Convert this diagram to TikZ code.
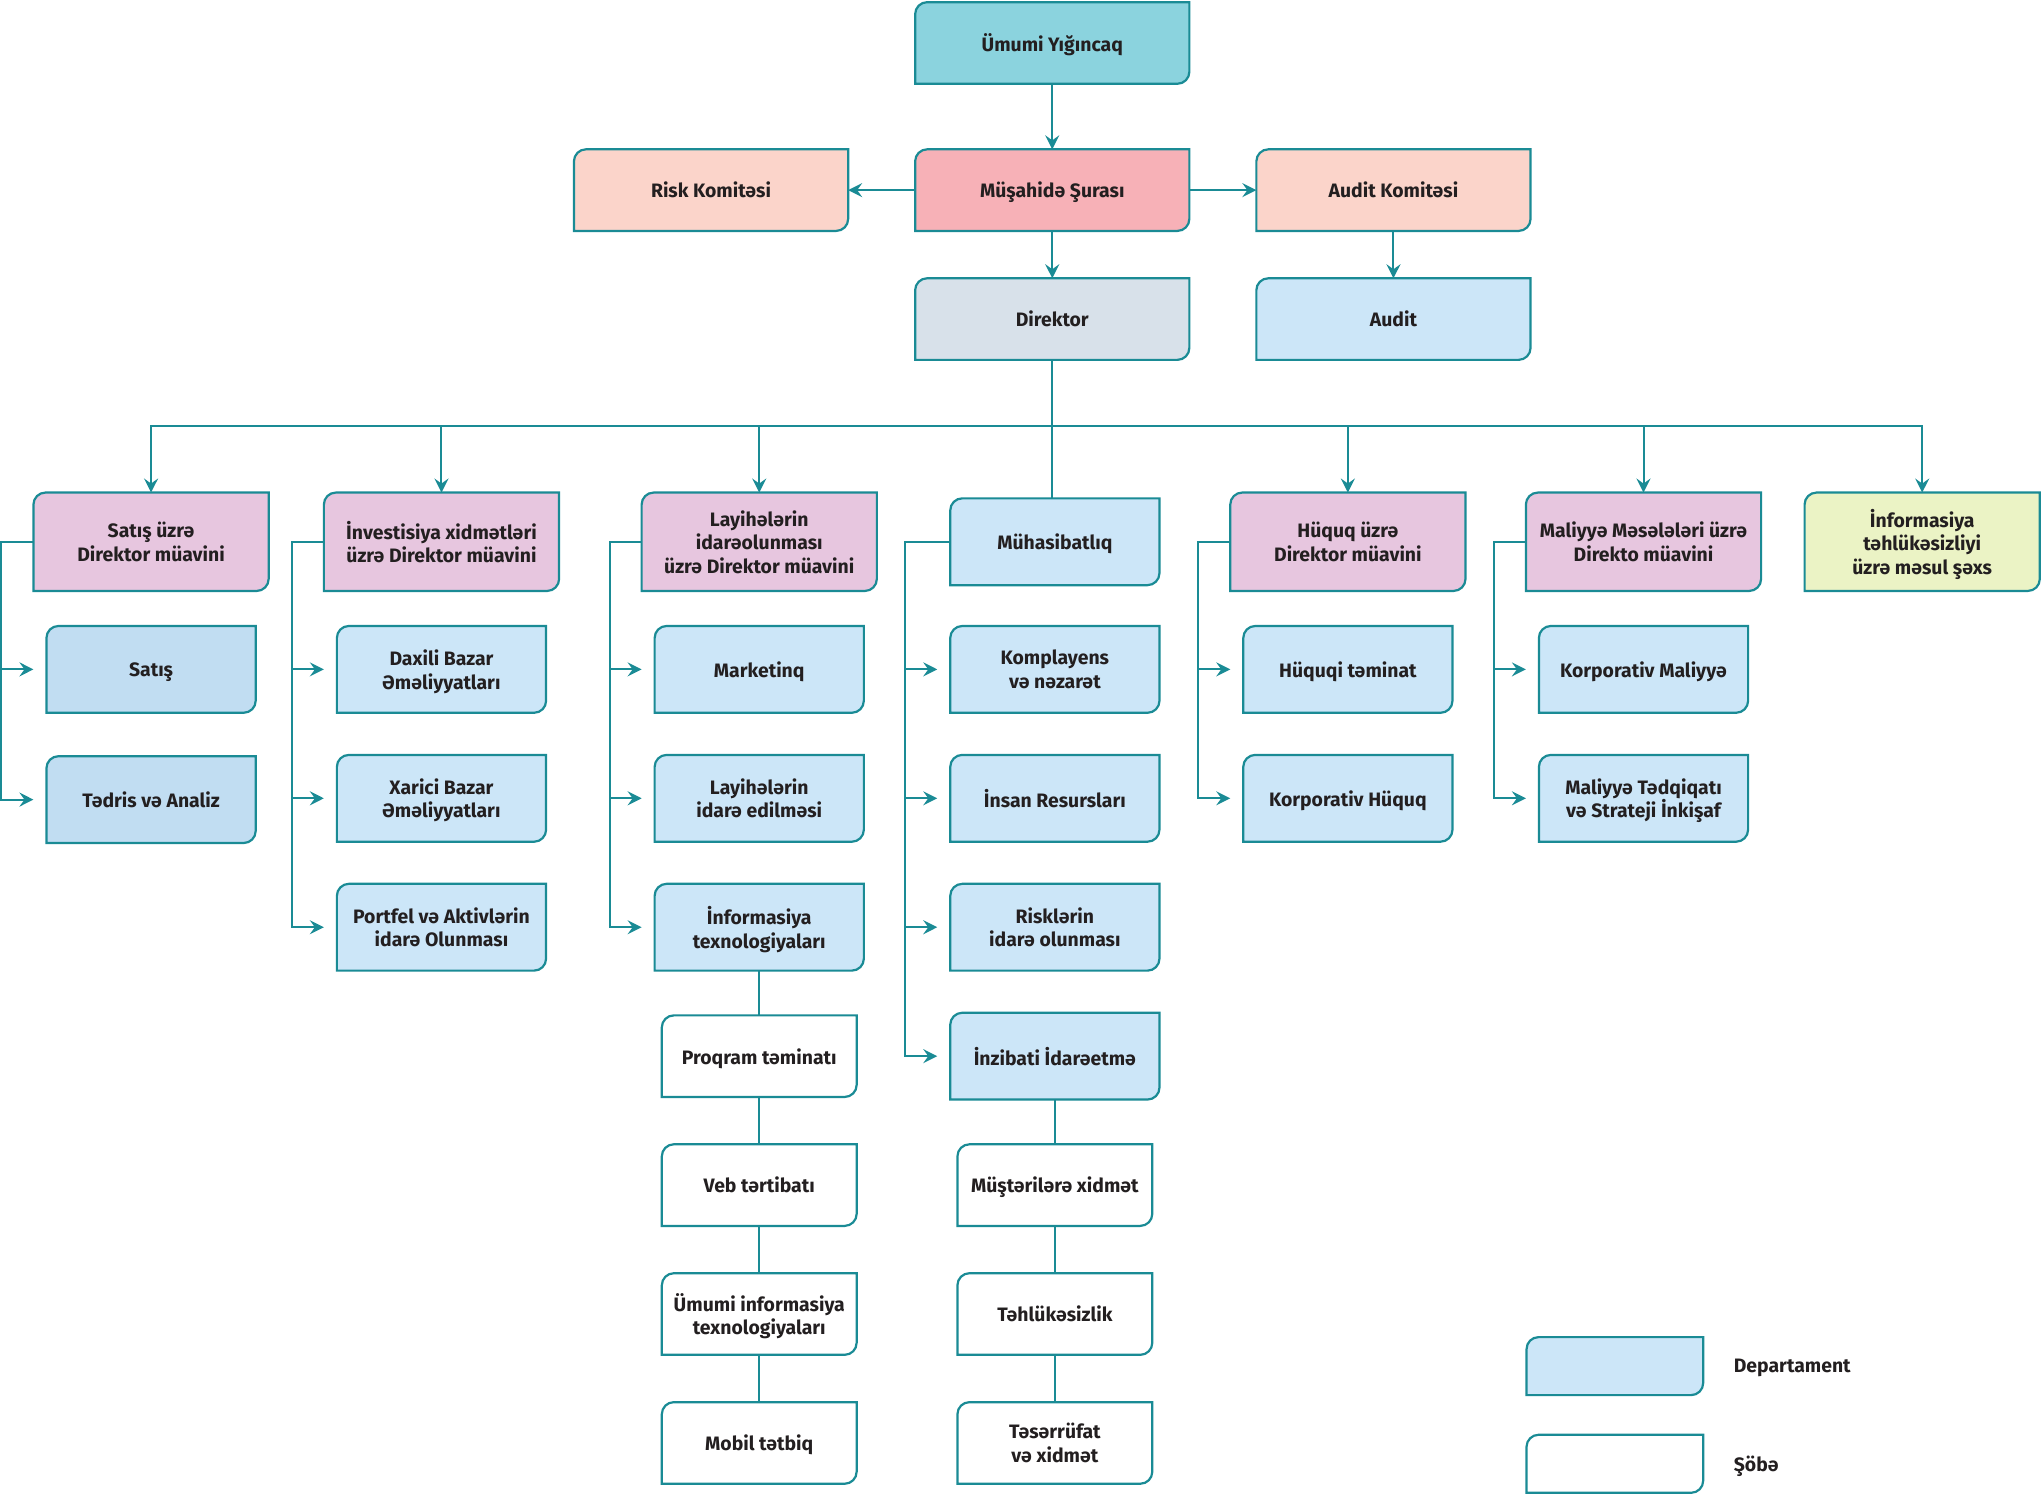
\documentclass[tikz,border=0pt]{standalone}
\usepackage{fontspec}
\setmainfont{Fira Sans}
\usetikzlibrary{arrows.meta,backgrounds,calc}
\definecolor{orgteal}{HTML}{1A8B95}
\definecolor{orgtext}{HTML}{231F20}
\definecolor{gmfill}{HTML}{8BD3DE}
\definecolor{msfill}{HTML}{F7B1B7}
\definecolor{komfill}{HTML}{FBD4CA}
\definecolor{dirfill}{HTML}{D8E1EA}
\definecolor{depfill}{HTML}{CCE6F8}
\definecolor{saleblue}{HTML}{C1DDF2}
\definecolor{mgrfill}{HTML}{E7C6DF}
\definecolor{secfill}{HTML}{EBF3C5}
\newcommand{\tabr}{6pt}
\newcommand{\tabbox}[2]{%
  \filldraw[boxline, fill=#2] (#1.south west) -- ([yshift=-\tabr]#1.north west)
    arc[start angle=180, end angle=90, radius=\tabr] -- (#1.north east)
    -- ([yshift=\tabr]#1.south east)
    arc[start angle=0, end angle=-90, radius=\tabr] -- cycle;}
\tikzset{
  base/.style   ={align=center, font=\fontsize{9.7}{11.8}\selectfont\bfseries,
                  text=orgtext, inner sep=2pt, text depth=0pt},
  topbox/.style ={base, minimum width=136.7pt, minimum height=40.4pt},
  mgr/.style    ={base, minimum width=117.2pt, minimum height=48.8pt},
  dept/.style   ={base, minimum width=104.2pt, minimum height=43pt},
  sobe/.style   ={base, minimum width=97pt, minimum height=40.4pt},
  legbox/.style ={minimum width=87.9pt, minimum height=28.6pt},
  legtxt/.style ={base, anchor=west},
  boxline/.style={draw=orgteal, line width=1.1pt},
  ln/.style     ={draw=orgteal, line width=1pt},
  fl/.style     ={ln, -{Stealth[length=7pt, width=7pt, inset=2.5pt]}},
  side/.style   ={fl, shorten >=6.5pt}
}

\begin{document}
\begin{tikzpicture}[x=0.6511pt, y=-0.6511pt]
  \useasboundingbox (0,0) rectangle (1568,1147);
  % --- governance
  \node[topbox] (gm)  at (808,33)   {Ümumi Yığıncaq};
  \node[topbox] (ms)  at (808,146)  {Müşahidə Şurası};
  \node[topbox] (rk)  at (546,146)  {Risk Komitəsi};
  \node[topbox] (ak)  at (1070,146) {Audit Komitəsi};
  \node[topbox] (dir) at (808,245)  {Direktor};
  \node[topbox] (aud) at (1070,245) {Audit};
  % --- deputies
  \node[mgr]  (satdm)  at (116,416)  {Satış üzrə\\Direktor müavini};
  \node[mgr]  (invdm)  at (339,416)  {İnvestisiya xidmətləri\\üzrə Direktor müavini};
  \node[mgr]  (laydm)  at (583,416)  {Layihələrin\\idarəolunması\\üzrə Direktor müavini};
  \node[dept] (muh)    at (810,416)  {Mühasibatlıq};
  \node[mgr]  (huqdm)  at (1035,416) {Hüquq üzrə\\Direktor müavini};
  \node[mgr]  (maldm)  at (1262,416) {Maliyyə Məsələləri üzrə\\Direkto müavini};
  \node[mgr]  (infsec) at (1476,416) {İnformasiya\\təhlükəsizliyi\\üzrə məsul şəxs};
  % --- departments
  \node[dept] (satis)   at (116,514)  {Satış};
  \node[dept] (tedris)  at (116,614)  {Tədris və Analiz};
  \node[dept] (daxili)  at (339,514)  {Daxili Bazar\\Əməliyyatları};
  \node[dept] (xarici)  at (339,613)  {Xarici Bazar\\Əməliyyatları};
  \node[dept] (portfel) at (339,712)  {Portfel və Aktivlərin\\idarə Olunması};
  \node[dept] (mark)    at (583,514)  {Marketinq};
  \node[dept] (layid)   at (583,613)  {Layihələrin\\idarə edilməsi};
  \node[dept] (infotex) at (583,712)  {İnformasiya\\texnologiyaları};
  \node[dept] (kompl)   at (810,514)  {Komplayens\\və nəzarət};
  \node[dept] (insan)   at (810,613)  {İnsan Resursları};
  \node[dept] (riskid)  at (810,712)  {Risklərin\\idarə olunması};
  \node[dept] (inzib)   at (810,811)  {İnzibati İdarəetmə};
  \node[dept] (huqtem)  at (1035,514) {Hüquqi təminat};
  \node[dept] (korphuq) at (1035,613) {Korporativ Hüquq};
  \node[dept] (korpmal) at (1262,514) {Korporativ Maliyyə};
  \node[dept] (maltd)   at (1262,613) {Maliyyə Tədqiqatı\\və Strateji İnkişaf};
  % --- sections
  \node[sobe] (proq)   at (583,811)  {Proqram təminatı};
  \node[sobe] (veb)    at (583,910)  {Veb tərtibatı};
  \node[sobe] (umin)   at (583,1009) {Ümumi informasiya\\texnologiyaları};
  \node[sobe] (mobil)  at (583,1108) {Mobil tətbiq};
  \node[sobe] (mustr)  at (810,910)  {Müştərilərə xidmət};
  \node[sobe] (tehluk) at (810,1009) {Təhlükəsizlik};
  \node[sobe] (teser)  at (810,1108) {Təsərrüfat\\və xidmət};
  % --- legend
  \node[legbox] (legdep) at (1240,1049) {};
  \node[legbox] (legsob) at (1240,1124) {};
  \node[legtxt] (legdept) at (1328,1049) {Departament};
  \node[legtxt] (legsobt) at (1328,1124) {Şöbə};

  \begin{scope}[on background layer]
    \foreach \n/\c in {gm/gmfill, ms/msfill, rk/komfill, ak/komfill, dir/dirfill,
        aud/depfill, satdm/mgrfill, invdm/mgrfill, laydm/mgrfill, muh/depfill,
        huqdm/mgrfill, maldm/mgrfill, infsec/secfill, satis/saleblue,
        tedris/saleblue, daxili/depfill, xarici/depfill, portfel/depfill,
        mark/depfill, layid/depfill, infotex/depfill, kompl/depfill,
        insan/depfill, riskid/depfill, inzib/depfill, huqtem/depfill,
        korphuq/depfill, korpmal/depfill, maltd/depfill, proq/white,
        veb/white, umin/white, mobil/white, mustr/white, tehluk/white,
        teser/white, legdep/depfill, legsob/white}
      \tabbox{\n}{\c};
  \end{scope}

  \draw[fl] (gm) -- (ms);
  \draw[fl] (ms) -- (rk);
  \draw[fl] (ms) -- (ak);
  \draw[fl] (ms) -- (dir);
  \draw[fl] (ak) -- (aud);
  % --- bus under the director
  \coordinate (bus) at (808,327);
  \foreach \t in {satdm,invdm,laydm,huqdm,maldm,infsec}
    \draw[fl] (dir.south) |- (bus -| \t.north) -- (\t.north);
  \draw[ln] (dir.south) -- (dir.south |- muh.north);
  % --- side spines
  \foreach \m/\s in {satdm/satis, satdm/tedris, invdm/daxili, invdm/xarici,
      invdm/portfel, laydm/mark, laydm/layid, laydm/infotex, muh/kompl,
      muh/insan, muh/riskid, muh/inzib, huqdm/huqtem, huqdm/korphuq,
      maldm/korpmal, maldm/maltd}
    \draw[side] (\m.west) -| ([xshift=-22.5pt]\s.west) -- (\s.west);
  % --- section chains
  \draw[ln] (infotex) -- (proq) -- (veb) -- (umin) -- (mobil);
  \draw[ln] (inzib) -- (mustr) -- (tehluk) -- (teser);
\end{tikzpicture}
\end{document}
